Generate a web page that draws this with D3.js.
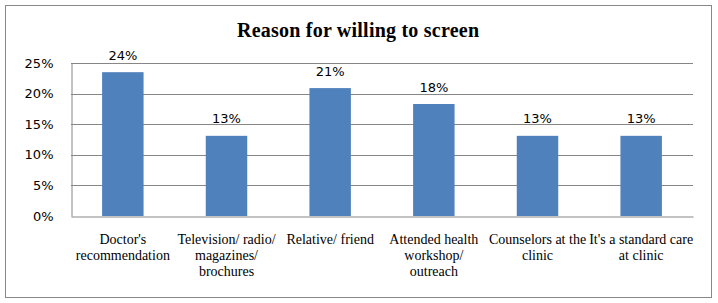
<!DOCTYPE html>
<html>
  <head>
    <meta charset="utf-8">
    <title>Reason for willing to screen</title>
    <script src="https://cdn.jsdelivr.net/npm/d3@7"></script>
    <style>
      body { margin: 0; background: #fff; }
      #chart { display: block; }
      .title { font-family: "Liberation Serif", "Times New Roman", serif; font-weight: bold; font-size: 20px; }
      .yAxis text, .value { font-family: "DejaVu Sans", Verdana, sans-serif; font-size: 13px; fill: #000; }
      .catLabel { font-family: "Liberation Serif", "Times New Roman", serif; font-size: 14px; fill: #000; }
    </style>
  </head>

  <body>
    <svg id="chart" width="718" height="303">
      <rect id="frame"></rect>
      <text class="title"></text>
      <g id="gridGroup"></g>
      <g id="barGroup"></g>
      <g id="axisGroup"></g>
    </svg>

    <script>
      // data
      categories = [
        "Doctor's\nrecommendation",
        "Television/ radio/\nmagazines/\nbrochures",
        "Relative/ friend",
        "Attended health\nworkshop/\noutreach",
        "Counselors at the\nclinic",
        "It's a standard care\nat clinic"
      ];
      values = [0.235, 0.131, 0.209, 0.183, 0.131, 0.131];
      valueLabels = ["24%", "13%", "21%", "18%", "13%", "13%"];
      yTicks = [0, 0.05, 0.10, 0.15, 0.20, 0.25];

      // elements
      chart = d3.select("#chart");
      gridGroup = d3.select("#gridGroup");
      barGroup = d3.select("#barGroup");
      axisGroup = d3.select("#axisGroup");

      margin = { top: 63, right: 25, bottom: 87, left: 71 };
      width = 718;
      height = 303;

      chart.select("#frame")
        .attr("x", 5.5).attr("y", 5.5)
        .attr("width", 706).attr("height", 292)
        .attr("fill", "#fff")
        .attr("stroke", "#888");

      chart.select(".title")
        .attr("x", 358)
        .attr("y", 36.5)
        .attr("text-anchor", "middle")
        .attr("textLength", 242)
        .text("Reason for willing to screen");

      x = d3.scaleBand()
        .domain(categories)
        .range([margin.left, width - margin.right])
        .paddingInner(.6)
        .paddingOuter(.3);
      y = d3.scaleLinear()
        .domain([0, 0.25])
        .range([height - margin.bottom, margin.top]);

      // gridlines
      gridGroup.selectAll("line")
          .data(yTicks.slice(1))
        .enter().append("line")
          .attr("x1", margin.left)
          .attr("x2", width - margin.right)
          .attr("y1", function(d) { return Math.round(y(d)) + .5; })
          .attr("y2", function(d) { return Math.round(y(d)) + .5; })
          .attr("stroke", "#868686");

      // bars
      barGroup.selectAll("rect")
          .data(values)
        .enter().append("rect")
          .attr("x", function(d, i) { return x(categories[i]); })
          .attr("y", function(d) { return y(d); })
          .attr("width", x.bandwidth())
          .attr("height", function(d) { return y(0) - y(d); })
          .attr("fill", "#4F81BD");

      barGroup.selectAll(".value")
          .data(values)
        .enter().append("text")
          .attr("class", "value")
          .attr("x", function(d, i) { return x(categories[i]) + x.bandwidth() / 2; })
          .attr("y", function(d) { return y(d) - 12.5; })
          .attr("text-anchor", "middle")
          .text(function(d, i) { return valueLabels[i]; });

      // axes
      yAxis = d3.axisLeft(y)
        .tickValues(yTicks)
        .tickFormat(d3.format(".0%"))
        .tickSize(0)
        .tickPadding(18);
      yAxisGroup = axisGroup.append("g")
        .attr("class", "yAxis")
        .attr("transform", "translate(" + (margin.left + .5) + ", 0)")
        .call(yAxis);
      yAxisGroup.select(".domain").attr("stroke", "#868686");

      xAxisGroup = axisGroup.append("g")
        .attr("transform", "translate(0, " + (y(0) + .5) + ")")
        .call(d3.axisBottom(x).tickSize(0).tickFormat(""));
      xAxisGroup.select(".domain").attr("stroke", "#868686");

      catLabels = axisGroup.selectAll(".catLabel")
          .data(categories)
        .enter().append("text")
          .attr("class", "catLabel")
          .attr("text-anchor", "middle")
          .attr("transform", function(d) { return "translate(" + (x(d) + x.bandwidth() / 2) + ", 244)"; });

      catLabels.selectAll("tspan")
          .data(function(d) { return d.split("\n"); })
        .enter().append("tspan")
          .attr("x", 0)
          .attr("y", function(d, i) { return i * 16; })
          .text(function(d) { return d; });
    </script>
  </body>
</html>
